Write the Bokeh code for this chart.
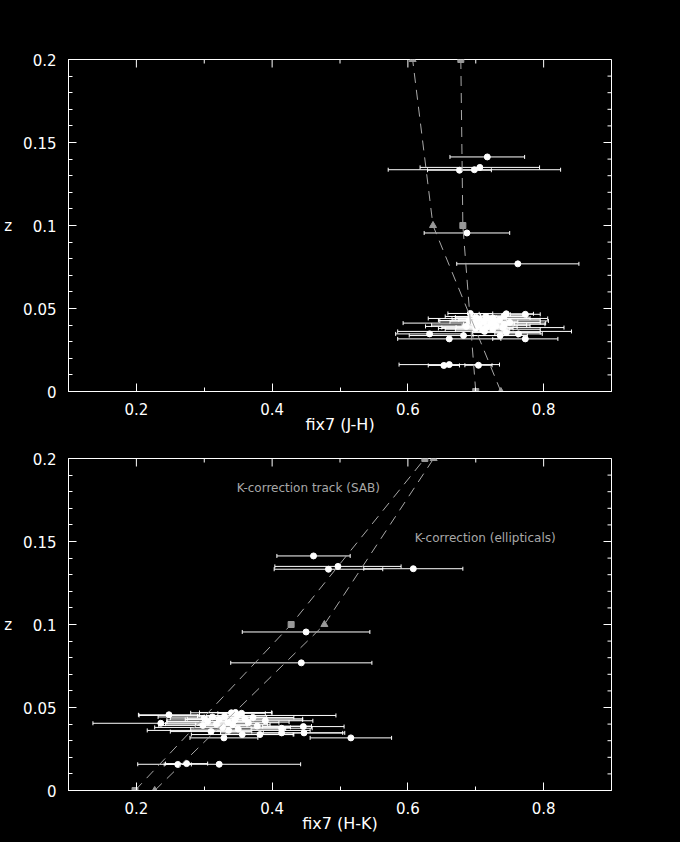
import math
from bokeh.plotting import figure
from bokeh.models import (ColumnDataSource, Whisker, TeeHead, FixedTicker,
                          Range1d, CustomJSTickFormatter)
from bokeh.layouts import column
from bokeh.core.properties import value
from bokeh.embed import file_html
from bokeh.resources import INLINE

# ---------------- data ----------------
# redshift of each galaxy
z = [0.1413, 0.1350, 0.1336, 0.1333, 0.0955, 0.0769,
     0.0470, 0.0468, 0.0465, 0.0456, 0.0452, 0.0448, 0.0443, 0.0440, 0.0436,
     0.0432, 0.0428, 0.0425, 0.0420, 0.0416, 0.0412, 0.0408, 0.0405, 0.0400,
     0.0396, 0.0392, 0.0388, 0.0385, 0.0380, 0.0375, 0.0370, 0.0362, 0.0355,
     0.0347, 0.0347, 0.0337, 0.0337, 0.0317, 0.0317,
     0.0157, 0.0162, 0.0158]
# fix7 (J-H) colour and error
jh = [0.717, 0.706, 0.698, 0.676, 0.687, 0.762,
      0.692, 0.745, 0.773, 0.742, 0.715, 0.700, 0.725, 0.718, 0.705,
      0.735, 0.690, 0.727, 0.712, 0.750, 0.698, 0.722, 0.742, 0.705,
      0.730, 0.686, 0.716, 0.740, 0.700, 0.725, 0.710, 0.713, 0.745,
      0.632, 0.763, 0.682, 0.736, 0.661, 0.773,
      0.653, 0.661, 0.704]
jh_err = [0.055, 0.088, 0.127, 0.047, 0.063, 0.090,
          0.033, 0.040, 0.022, 0.035, 0.060, 0.030, 0.055, 0.088, 0.040,
          0.060, 0.045, 0.080, 0.050, 0.045, 0.105, 0.035, 0.060, 0.070,
          0.050, 0.060, 0.045, 0.090, 0.055, 0.070, 0.040, 0.128, 0.050,
          0.050, 0.035, 0.080, 0.040, 0.076, 0.048,
          0.023, 0.074, 0.020]
# fix7 (H-K) colour and error
hk = [0.461, 0.497, 0.608, 0.483, 0.450, 0.443,
      0.346, 0.340, 0.355, 0.248, 0.349, 0.330, 0.312, 0.372, 0.300,
      0.360, 0.322, 0.345, 0.390, 0.305, 0.335, 0.365, 0.236, 0.318,
      0.342, 0.298, 0.378, 0.446, 0.327, 0.414, 0.350, 0.336, 0.310,
      0.447, 0.414, 0.356, 0.382, 0.329, 0.516,
      0.261, 0.274, 0.322]
hk_err = [0.054, 0.093, 0.073, 0.080, 0.094, 0.104,
          0.053, 0.060, 0.035, 0.045, 0.145, 0.040, 0.080, 0.060, 0.050,
          0.085, 0.050, 0.100, 0.070, 0.060, 0.090, 0.045, 0.100, 0.075,
          0.055, 0.065, 0.080, 0.060, 0.100, 0.045, 0.070, 0.120, 0.060,
          0.060, 0.090, 0.075, 0.050, 0.050, 0.060,
          0.020, 0.031, 0.120]

# K-correction tracks
track_z = [0.0, 0.1, 0.2]
sab_jh = [0.700, 0.681, 0.678]
ell_jh = [0.737, 0.637, 0.607]
sab_hk = [0.198, 0.428, 0.625]
ell_hk = [0.227, 0.477, 0.638]

# axes ticks
x_ticks = [0.2, 0.4, 0.6, 0.8]
x_labels = ["0.2", "0.4", "0.6", "0.8"]
x_minor = [0.1, 0.3, 0.5, 0.7, 0.9]
y_ticks = [0.0, 0.05, 0.1, 0.15, 0.2]
y_labels = ["0", "0.05", "0.1", "0.15", "0.2"]
y_minor = [0.01, 0.02, 0.03, 0.04, 0.06, 0.07, 0.08, 0.09,
           0.11, 0.12, 0.13, 0.14, 0.16, 0.17, 0.18, 0.19]

X_START, X_END = 0.1, 0.9
Y_START, Y_END = 0.0, 0.2

FONT = "DejaVu Sans"
GREY = "#a8a8a8"


def formatter(ticks, labels):
    return CustomJSTickFormatter(args=dict(vals=ticks, labels=labels), code="""
        for (let i = 0; i < vals.length; i++) {
            if (Math.abs(vals[i] - tick) < 1e-9) { return labels[i]; }
        }
        return "";
    """)


def style_axis(ax, ticks, minor, labels):
    ax.ticker = FixedTicker(ticks=ticks, minor_ticks=minor)
    ax.formatter = formatter(ticks, labels)
    ax.axis_line_color = "white"
    ax.major_tick_line_color = "white"
    ax.minor_tick_line_color = "white"
    ax.major_tick_in = 8
    ax.major_tick_out = 0
    ax.minor_tick_in = 4
    ax.minor_tick_out = 0
    ax.major_label_text_color = "white"
    ax.major_label_text_font = FONT
    ax.major_label_text_font_size = "15px"
    ax.axis_label_text_color = "white"
    ax.axis_label_text_font = FONT
    ax.axis_label_text_font_style = "normal"


def make_panel(xvals, xerr, sab, ell, xlabel, height, border_top, border_bottom, texts):
    p = figure(width=680, height=height,
               x_range=Range1d(X_START, X_END), y_range=Range1d(Y_START, Y_END),
               output_backend="svg", toolbar_location=None,
               background_fill_color="black", border_fill_color="black",
               outline_line_color="white",
               min_border_left=68, min_border_right=69,
               min_border_top=border_top, min_border_bottom=border_bottom,
               x_axis_label=xlabel, y_axis_label="z")
    p.grid.visible = False

    xa = p.xaxis[0]
    style_axis(xa, x_ticks, x_minor, x_labels)
    xa.major_label_standoff = 11
    xa.axis_label_standoff = -3
    xa.axis_label_text_font_size = "16px"

    ya = p.yaxis[0]
    style_axis(ya, y_ticks, y_minor, y_labels)
    ya.major_label_standoff = 12
    ya.axis_label_standoff = 8
    ya.axis_label_text_font_size = "15px"
    ya.axis_label_orientation = "horizontal"

    # inward ticks on the top and right frame edges
    p.ray(x=x_ticks, y=[Y_END] * len(x_ticks), length=8, length_units="screen",
          angle=-math.pi / 2, line_color="white", line_width=1)
    p.ray(x=x_minor, y=[Y_END] * len(x_minor), length=4, length_units="screen",
          angle=-math.pi / 2, line_color="white", line_width=1)
    p.ray(x=[X_END] * len(y_ticks), y=y_ticks, length=8, length_units="screen",
          angle=math.pi, line_color="white", line_width=1)
    p.ray(x=[X_END] * len(y_minor), y=y_minor, length=4, length_units="screen",
          angle=math.pi, line_color="white", line_width=1)

    lo = [v - e for v, e in zip(xvals, xerr)]
    hi = [v + e for v, e in zip(xvals, xerr)]
    src = ColumnDataSource(dict(x=xvals, z=z, lo=lo, hi=hi))
    w = Whisker(source=src, base="z", lower="lo", upper="hi", dimension="width",
                line_color="white", line_width=1,
                upper_head=TeeHead(size=4, line_color="white", line_width=1),
                lower_head=TeeHead(size=4, line_color="white", line_width=1),
                level="underlay")
    p.add_layout(w)
    p.scatter("x", "z", source=src, marker="circle", size=6,
              fill_color="white", line_color="white")

    p.line(sab, track_z, line_color=GREY, line_width=1, line_dash="10 7")
    p.line(ell, track_z, line_color=GREY, line_width=1, line_dash="10 7")
    p.scatter(sab, track_z, marker="square", size=6, fill_color="#999999", line_color="#999999")
    p.scatter(ell, track_z, marker="triangle", size=7, fill_color="#999999", line_color="#999999")

    for (tx, ty, tt) in texts:
        p.text(x=[tx], y=[ty], text=[tt], text_font=value(FONT),
               text_font_size=value("12px"), text_color=GREY,
               text_align="left", text_baseline="middle")
    return p


p1 = make_panel(jh, jh_err, sab_jh, ell_jh, "fix7 (J-H)", 440, 59, 49, [])
p2 = make_panel(hk, hk_err, sab_hk, ell_hk, "fix7 (H-K)", 402, 18, 52,
                [(0.348, 0.182, "K-correction track (SAB)"),
                 (0.610, 0.152, "K-correction (ellipticals)")])

layout = column(p1, p2)
layout.background = "black"
open("out.html", "w").write(file_html(layout, INLINE))
